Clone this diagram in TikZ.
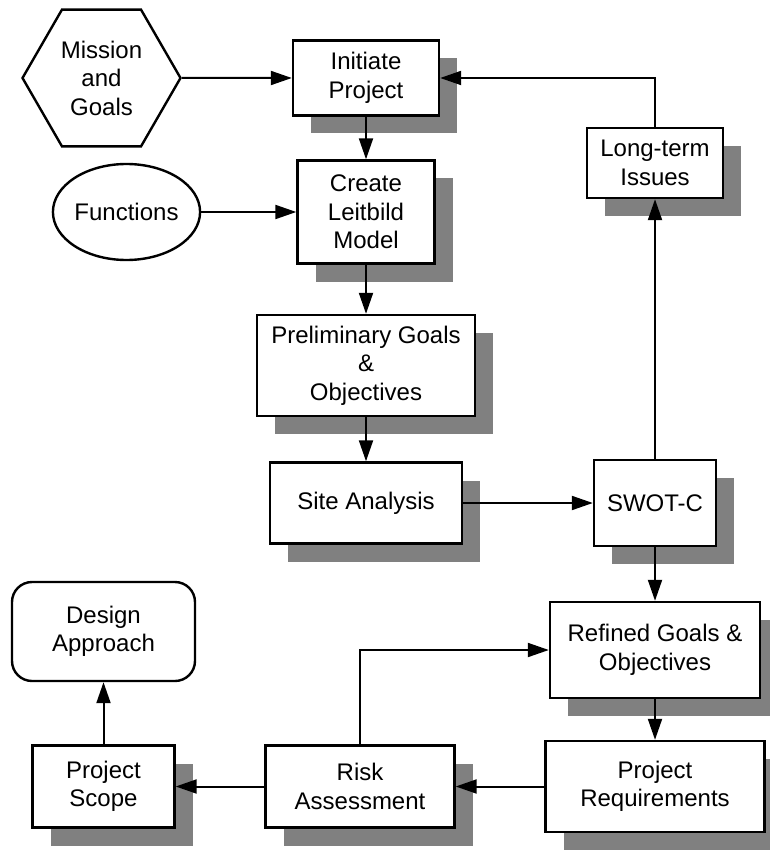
\documentclass[tikz,border=0pt]{standalone}
\usepackage{fontspec}
\setmainfont{Liberation Sans}
\usetikzlibrary{arrows.meta,shapes.geometric,shadows}
\definecolor{shadowgray}{HTML}{808080}
\begin{document}
\begin{tikzpicture}[x=1pt,y=-1pt,
  every node/.style={font=\fontsize{24}{28.5}\selectfont, align=center, inner sep=0pt},
  outline/.style={draw, line width=2.4pt, fill=white},
  box/.style={outline,
    drop shadow={shadow xshift=18pt, shadow yshift=-18pt, fill=shadowgray, opacity=1}},
  link/.style={line width=2pt, -{Triangle[length=21pt,width=14pt]}},
]
\useasboundingbox (0,0) rectangle (769,850);

% start shapes
\node[outline, regular polygon, regular polygon sides=6, minimum size=158pt] (hex) at (101.5,78) {Mission\\and\\Goals};
\node[outline, ellipse, minimum width=143pt, minimum height=96pt] (func) at (126.5,212) {Functions};

% central column
\node[box, minimum width=146pt, minimum height=75pt]  (init)   at (366,78)    {Initiate\\Project};
\node[box, minimum width=137pt, minimum height=103pt] (create) at (366,212)   {Create\\Leitbild\\Model};
\node[box, minimum width=218pt, minimum height=101pt] (prelim) at (366,365.5) {Preliminary Goals\\\&\\Objectives};
\node[box, minimum width=192pt, minimum height=81pt]  (site)   at (366,503)   {Site Analysis};

% right column
\node[box, minimum width=136pt, minimum height=70pt]  (lt)      at (655,163)   {Long-term\\Issues};
\node[box, minimum width=122pt, minimum height=86pt]  (swot)    at (655,503)   {SWOT-C};
\node[box, minimum width=210pt, minimum height=96pt]  (refined) at (655,650)   {Refined Goals \&\\Objectives};
\node[box, minimum width=219pt, minimum height=91pt]  (req)     at (655,786.5) {Project\\Requirements};

% bottom row
\node[box, minimum width=189pt, minimum height=82pt]  (risk)  at (360,786.5)   {Risk\\Assessment};
\node[box, minimum width=142pt, minimum height=82pt]  (scope) at (103.5,786.5) {Project\\Scope};
\node[outline, rounded corners=20pt, minimum width=183pt, minimum height=99pt] (design) at (103.5,631.5) {Design\\Approach};

% connectors
\draw[link] (hex.east) -- (init.west);
\draw[link] (init) -- (create);
\draw[link] (lt.north) |- (init.east);
\draw[link] (func) -- (create);
\draw[link] (create) -- (prelim);
\draw[link] (prelim) -- (site);
\draw[link] (site) -- (swot);
\draw[link] (swot) -- (lt);
\draw[link] (swot) -- (refined);
\draw[link] (refined) -- (req);
\draw[link] (req) -- (risk);
\draw[link] (risk) -- (scope);
\draw[link] (scope) -- (design);
\draw[link] (risk.north) |- (refined.west);
\end{tikzpicture}
\end{document}
